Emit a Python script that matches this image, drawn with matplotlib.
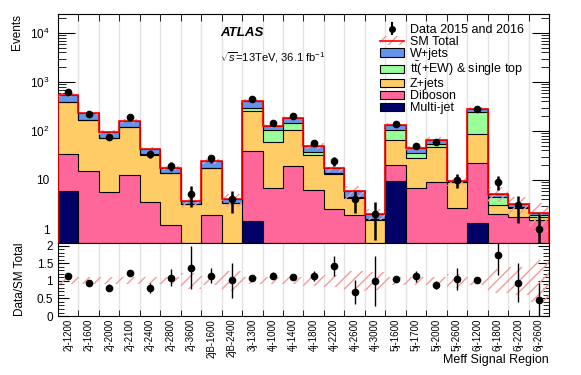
import numpy as np
import matplotlib.pyplot as plt
from matplotlib.patches import Patch
from matplotlib.lines import Line2D
from matplotlib.legend_handler import HandlerTuple
from matplotlib.ticker import FixedLocator, MultipleLocator, LogLocator, FuncFormatter

plt.rcParams['font.family'] = ['Liberation Sans', 'DejaVu Sans']
plt.rcParams['mathtext.fontset'] = 'custom'
plt.rcParams['mathtext.rm'] = 'Liberation Sans'
plt.rcParams['mathtext.it'] = 'Liberation Sans:italic'
plt.rcParams['hatch.linewidth'] = 1.0

regions = ['2j-1200', '2j-1600', '2j-2000', '2j-2100', '2j-2400', '2j-2800', '2j-3600',
           '2jB-1600', '2jB-2400', '3j-1300', '4j-1000', '4j-1400', '4j-1800', '4j-2200',
           '4j-2600', '4j-3000', '5j-1600', '5j-1700', '5j-2000', '5j-2600', '6j-1200',
           '6j-1800', '6j-2200', '6j-2600']

# background yields per region
multijet = [6, 0, 0, 0, 0, 0, 0, 0, 0, 1.45, 0, 0, 0, 0, 0, 0, 9.5, 0, 0, 0, 1.31, 0, 0, 0]
diboson = [28, 15.5, 5.8, 12.8, 3.5, 1.2, 0.3, 1.93, 0.3, 37.5, 7.0, 19.5, 6.2, 2.5,
           1.93, 0.3, 10.7, 6.8, 9.0, 2.64, 20.6, 2.0, 1.73, 1.53]
zjets = [351, 149.5, 65.2, 105.2, 29.5, 12.5, 2.94, 15.4, 3.05, 221, 52, 85.5, 26.2, 10.5,
         2.37, 1.23, 44.8, 21.7, 38, 6.36, 63.6, 1.1, 0.91, 0.22]
ttbar = [10, 3, 1, 2, 1, 0.3, 0.06, 0.3, 0.05, 30, 46, 39, 5.6, 0.8,
         0.1, 0.07, 40, 7.5, 7, 0.1, 162.5, 1.3, 0.21, 0.18]
wjets = [150, 68, 22, 38, 8, 3.8, 0.4, 6.4, 0.65, 118, 21, 42, 11.5, 3.5,
         1.5, 0.45, 27, 8.4, 13, 0.5, 33, 0.9, 0.35, 0.22]
# relative uncertainty on SM total
sm_unc = [0.1, 0.1, 0.1, 0.1, 0.1, 0.1, 0.23, 0.13, 0.29, 0.1, 0.1, 0.1, 0.15, 0.16,
          0.29, 0.26, 0.12, 0.12, 0.12, 0.2, 0.12, 0.34, 0.39, 0.6]

data = [625, 222, 76, 195, 34, 19.4, 5.1, 27.5, 4.1, 445, 145, 205, 56, 24.7,
        4.1, 2.05, 139, 50, 60, 10, 285, 9.2, 3.05, 1.0]
data_err = [25, 15, 9, 14, 6, 4.4, 2.3, 5.2, 2.0, 21, 12, 14, 7, 5,
            2.0, 1.45, 12, 7, 7.7, 3.0, 17, 3.0, 1.75, 1.0]

c_mj, c_db, c_z, c_tt, c_w = '#000066', '#ff6699', '#ffcc66', '#99ff99', '#6495ed'
hatch_col = '#f59a9a'

edges = np.arange(len(regions) + 1)
centers = edges[:-1] + 0.5

fig = plt.figure(figsize=(5.81, 3.75), dpi=100)
ax = fig.add_axes([0.0998, 0.352, 0.8451, 0.6107])
ax2 = fig.add_axes([0.0998, 0.1573, 0.8451, 0.1947])

for e in edges[1:-1]:
    ax.axvline(e, color='#e3e3e3', lw=1, zorder=0)
    ax2.axvline(e, color='#e3e3e3', lw=1, zorder=0)

base = np.full(len(regions), 1e-3)
for vals, col in [(multijet, c_mj), (diboson, c_db), (zjets, c_z), (ttbar, c_tt), (wjets, c_w)]:
    top = base + np.array(vals)
    ax.stairs(top, edges, baseline=base, fill=True, color=col, lw=0, zorder=2)
    ax.stairs(top, edges, baseline=None, color='black', lw=0.8, zorder=3)
    base = top

sm = base
unc = np.array(sm_unc)
ax.stairs(sm * (1 + unc), edges, baseline=sm * (1 - unc), fill=True, facecolor='none',
          edgecolor=hatch_col, hatch='///', lw=0, zorder=4)
ax.stairs(sm, edges, baseline=1e-3, color='red', lw=1.2, zorder=4)

ax.errorbar(centers, data, yerr=data_err, fmt='o', color='black', ms=4.5, lw=1.8,
            capsize=0, zorder=6)

ax.set_yscale('log')
ax.set_ylim(0.518, 2.44e4)
ax.set_xlim(0, len(regions))
ax.yaxis.set_major_locator(FixedLocator([1, 10, 100, 1000, 10000]))
ax.yaxis.set_minor_locator(LogLocator(base=10, subs=np.arange(2, 10)))
ax.yaxis.set_major_formatter(FuncFormatter(
    lambda v, p: {1: '1', 10: '10'}.get(int(round(v)), '$10^{%d}$' % round(np.log10(v)))))
ax.yaxis.set_minor_formatter(FuncFormatter(lambda v, p: ''))
ax.tick_params(axis='y', which='major', direction='in', length=12, left=True, right=True,
               labelsize=8.5, pad=6)
ax.tick_params(axis='y', which='minor', direction='in', length=6, left=True, right=True)
ax.set_xticks(centers)
ax.set_xticklabels([])
ax.set_xticks(edges, minor=True)
ax.tick_params(axis='x', which='major', length=0)
ax.tick_params(axis='x', which='minor', direction='in', length=5, top=True, bottom=False)
ax.set_ylabel('Events', fontsize=8.5, loc='top')
ax.yaxis.set_label_coords(-0.071, 1.0)

fig.text(220 / 581, 1 - 33 / 375, 'ATLAS', fontsize=9.5, weight='bold', style='italic',
         va='center', ha='left')
fig.text(220 / 581, 1 - 58 / 375, r'$\sqrt{s}$=13TeV, 36.1 fb$^{-1}$', fontsize=8,
         va='center', ha='left')

# legend
h_data = ax.errorbar([], [], yerr=[], fmt='o', color='black', ms=4, lw=1.5)
h_sm = (Patch(facecolor='none', edgecolor=hatch_col, hatch='///', lw=0),
        Line2D([], [], color='red', lw=1.2))
h_w = Patch(facecolor=c_w, edgecolor='black', lw=0.8)
h_tt = Patch(facecolor=c_tt, edgecolor='black', lw=0.8)
h_z = Patch(facecolor=c_z, edgecolor='black', lw=0.8)
h_db = Patch(facecolor=c_db, edgecolor='black', lw=0.8)
h_mj = Patch(facecolor=c_mj, edgecolor='black', lw=0.8)
fig.legend([h_data, h_sm, h_w, h_tt, h_z, h_db, h_mj],
           ['Data 2015 and 2016', 'SM Total', 'W+jets', r't$\bar{\rm t}$(+EW) & single top',
            'Z+jets', 'Diboson', 'Multi-jet'],
           handler_map={tuple: HandlerTuple(ndivide=1)},
           loc='upper left', bbox_to_anchor=(380 / 581, 1 - 24 / 375), frameon=False,
           fontsize=9, borderpad=0, labelspacing=0.0, handlelength=1.95, handleheight=0.65,
           handletextpad=0.45, borderaxespad=0)

# ratio panel
ratio = np.array(data) / sm
ratio_err = np.array(data_err) / sm
ax2.stairs(1 + unc, edges, baseline=1 - unc, fill=True, facecolor='none',
           edgecolor=hatch_col, hatch='///', lw=0, zorder=2)
ax2.errorbar(centers, ratio, yerr=ratio_err, fmt='o', color='black', ms=4.5, lw=1,
             capsize=0, zorder=5)
ax2.set_xlim(0, len(regions))
ax2.set_ylim(0, 2.08)
ax2.set_yticks([0, 0.5, 1, 1.5, 2])
ax2.set_yticklabels(['0', '0.5', '1', '1.5', '2'])
ax2.yaxis.set_minor_locator(MultipleLocator(0.1))
ax2.tick_params(axis='y', which='major', direction='in', length=8, left=True, right=True,
                labelsize=8.5, pad=3.5)
ax2.tick_params(axis='y', which='minor', direction='in', length=4, left=True, right=True)
ax2.set_xticks(centers)
ax2.set_xticklabels(regions, rotation=90, fontsize=7)
ax2.set_xticks(edges, minor=True)
ax2.tick_params(axis='x', which='major', length=0, pad=2)
ax2.tick_params(axis='x', which='minor', direction='in', length=4, top=False, bottom=True)
ax2.set_ylabel('Data/SM Total', fontsize=8.5)
ax2.yaxis.set_label_coords(-0.065, 0.5)
ax2.set_xlabel('Meff Signal Region', fontsize=9, loc='right')
ax2.xaxis.set_label_coords(1.0, -0.52)

fig.savefig('out.png', dpi=100)
